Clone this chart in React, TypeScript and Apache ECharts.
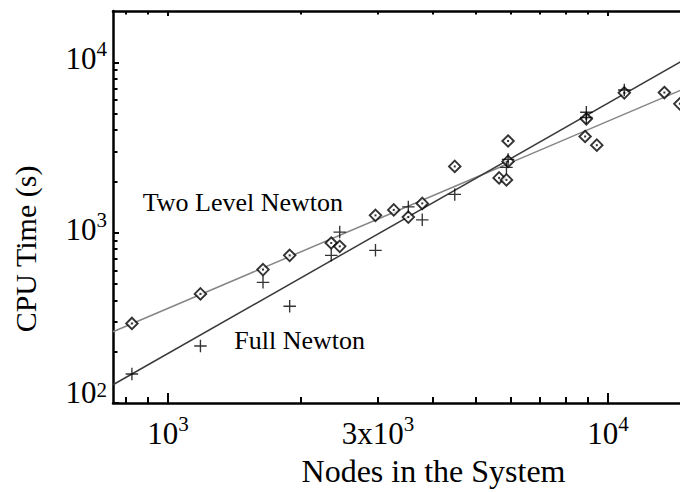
import React, { useEffect, useRef } from "react";
import * as echarts from "echarts";

// ---- data ----
const nodesTwoLevel = [828, 1185, 1644, 1890, 2349, 2456, 2961, 3258, 3516, 3782, 4483, 5925, 5925, 5653, 5875, 8923, 8866, 9425, 10884, 13422, 14555];
const timeTwoLevel = [293, 437, 607, 736, 869, 831, 1263, 1360, 1234, 1485, 2447, 3452, 2618, 2096, 2040, 4659, 3668, 3262, 6616, 6643, 5703];

const nodesFull = [828, 1185, 1644, 1890, 2349, 2456, 2961, 3516, 3782, 4483, 5925, 5875, 8923, 8923, 10884];
const timeFull = [148, 216, 511, 370, 736, 1008, 787, 1416, 1189, 1677, 2690, 2414, 5092, 4742, 6871];

const fitNodes = [750, 20000];
const fitTwoLevel = [262, 9670];
const fitFull = [128, 15960];

const xRange = [750, 20000];
const yRange = [100, 20000];
const xMajorTicks = [1000, 10000];
const xMinorTicks = [800, 900, 2000, 3000, 4000, 5000, 6000, 7000, 8000, 9000];
const xLabelValues = [1000, 3000, 10000];
const yMajorTicks = [100, 1000, 10000];
const yMinorTicks = [200, 300, 400, 500, 600, 700, 800, 900, 2000, 3000, 4000, 5000, 6000, 7000, 8000, 9000];
const yLabelValues = [100, 1000, 10000];

const SERIF = '"Liberation Serif", "Times New Roman", Times, serif';
const CROSS =
  "path://M-0.65,-6L0.65,-6L0.65,-0.65L6,-0.65L6,0.65L0.65,0.65L0.65,6L-0.65,6L-0.65,0.65L-6,0.65L-6,-0.65L-0.65,-0.65Z";

function powLabel(v: number, lowStyle: boolean): string {
  const e = Math.round(Math.log10(v));
  const m = Math.round(v / Math.pow(10, e));
  const base = m === 1 ? "10" : `${m}x10`;
  if (lowStyle) return `{m2|${base}}{s|${e}}`;
  return `{m|${base}}{s|${e}}`;
}

const richStyle = {
  m: { fontFamily: SERIF, fontSize: 31, lineHeight: 40, color: "#000" },
  m2: { fontFamily: SERIF, fontSize: 31, lineHeight: 40, padding: [0, 0, 14, 0], color: "#000" },
  s: { fontFamily: SERIF, fontSize: 21, lineHeight: 21, verticalAlign: "top", color: "#000" },
};

function xAxisDef(position: string, ticks: number[], len: number, showLine: boolean, labels: boolean) {
  return {
    type: "log",
    logBase: 10,
    min: xRange[0],
    max: xRange[1],
    position,
    gridIndex: 0,
    splitLine: { show: false },
    axisLine: { show: showLine, onZero: false, lineStyle: { color: "#000", width: 2.5 } },
    axisTick: { show: true, inside: true, length: len, customValues: ticks, lineStyle: { color: "#000", width: 2 } },
    axisLabel: labels
      ? {
          show: true,
          customValues: xLabelValues,
          margin: 10,
          formatter: (v: number) => powLabel(v, false),
          rich: richStyle,
          showMinLabel: true,
          showMaxLabel: true,
          hideOverlap: false,
        }
      : { show: false },
  };
}

function yAxisDef(ticks: number[], len: number, showLine: boolean, labels: boolean) {
  return {
    type: "log",
    logBase: 10,
    min: yRange[0],
    max: yRange[1],
    position: "left",
    gridIndex: 0,
    splitLine: { show: false },
    axisLine: { show: showLine, onZero: false, lineStyle: { color: "#000", width: 2.5 } },
    axisTick: { show: true, inside: true, length: len, customValues: ticks, lineStyle: { color: "#000", width: 2 } },
    axisLabel: labels
      ? {
          show: true,
          customValues: yLabelValues,
          margin: 6,
          padding: [0, 0, 7, 0],
          formatter: (v: number) => powLabel(v, v === yRange[0]),
          rich: richStyle,
          showMinLabel: true,
          showMaxLabel: true,
          hideOverlap: false,
        }
      : { show: false },
  };
}

export default function App() {
  const ref = useRef<HTMLDivElement>(null);

  useEffect(() => {
    if (!ref.current) return;
    document.body.style.margin = "0";
    const chart = echarts.init(ref.current, null, { renderer: "svg" });

    const twoLevelPts = nodesTwoLevel.map((x, i) => [x, timeTwoLevel[i]]);
    const fullPts = nodesFull.map((x, i) => [x, timeFull[i]]);

    chart.setOption({
      animation: false,
      backgroundColor: "#fff",
      grid: { left: 113, top: 11, width: 627.6, height: 392, containLabel: false, outerBoundsMode: "none" },
      xAxis: [
        xAxisDef("bottom", xMajorTicks, 10, true, true),
        xAxisDef("bottom", xMinorTicks, 6, false, false),
        xAxisDef("top", xMajorTicks, 5, true, false),
        xAxisDef("top", xMinorTicks, 3.5, false, false),
      ],
      yAxis: [yAxisDef(yMajorTicks, 6, true, true), yAxisDef(yMinorTicks, 4.5, false, false)],
      series: [
        {
          name: "Two Level fit",
          type: "line",
          data: fitNodes.map((x, i) => [x, fitTwoLevel[i]]),
          showSymbol: false,
          symbol: "none",
          lineStyle: { color: "#858585", width: 1.5 },
          z: 1,
        },
        {
          name: "Full fit",
          type: "line",
          data: fitNodes.map((x, i) => [x, fitFull[i]]),
          showSymbol: false,
          symbol: "none",
          lineStyle: { color: "#3a3a3a", width: 1.5 },
          z: 1,
        },
        {
          name: "Two Level Newton",
          type: "scatter",
          data: twoLevelPts,
          symbol: "diamond",
          symbolSize: 11.5,
          itemStyle: { color: "#fff", borderColor: "#000", borderWidth: 1.9 },
          z: 3,
        },
        {
          name: "Two Level Newton dot",
          type: "scatter",
          data: twoLevelPts,
          symbol: "rect",
          symbolSize: 2,
          itemStyle: { color: "#000" },
          z: 4,
        },
        {
          name: "Full Newton",
          type: "scatter",
          data: fullPts,
          symbol: CROSS,
          symbolSize: 12.5,
          itemStyle: { color: "#000" },
          z: 5,
        },
      ],
      graphic: [
        {
          type: "text",
          x: 142.7,
          y: 202,
          style: { text: "Two Level Newton", font: `26px ${SERIF}`, fill: "#000", align: "left", verticalAlign: "middle" },
        },
        {
          type: "text",
          x: 234.3,
          y: 340,
          style: { text: "Full Newton", font: `26px ${SERIF}`, fill: "#000", align: "left", verticalAlign: "middle" },
        },
        {
          type: "text",
          x: 433.5,
          y: 470.5,
          style: { text: "Nodes in the System", font: `32px ${SERIF}`, fill: "#000", align: "center", verticalAlign: "middle" },
        },
        {
          type: "text",
          x: 25,
          y: 249,
          rotation: Math.PI / 2,
          style: { text: "CPU Time (s)", font: `30px ${SERIF}`, fill: "#000", align: "center", verticalAlign: "middle" },
        },
      ],
    });

    return () => chart.dispose();
  }, []);

  return <div ref={ref} style={{ position: "fixed", left: 0, top: 0, width: 680, height: 492, overflow: "hidden" }} />;
}
